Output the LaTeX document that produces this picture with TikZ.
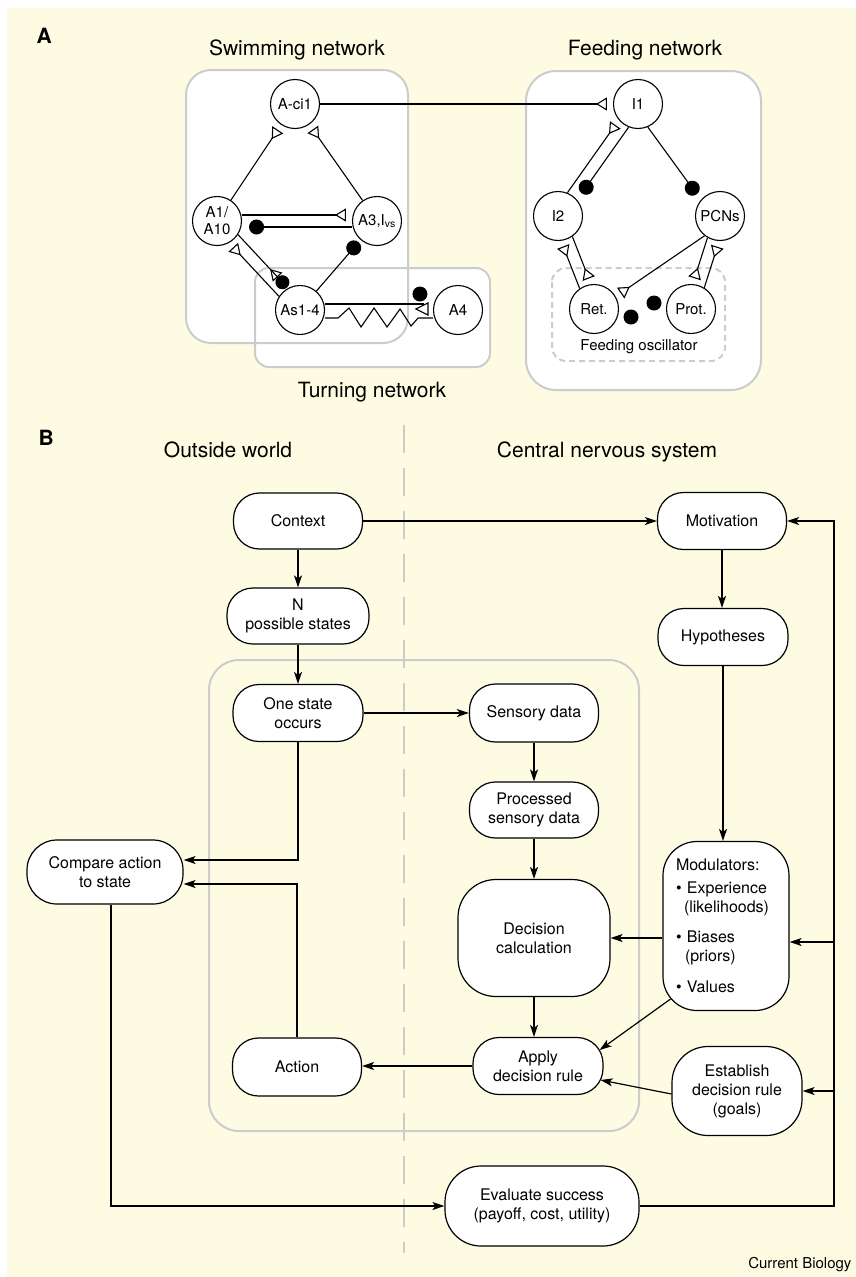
\documentclass[tikz,border=0pt]{standalone}
\usepackage{fontspec}
\setmainfont{TeX Gyre Heros}
\usetikzlibrary{arrows.meta,calc}
\definecolor{cream}{RGB}{253,251,226}
\definecolor{boxgray}{RGB}{204,204,204}
\begin{document}
\begin{tikzpicture}[x=1pt,y=-1pt,
  neuron/.style={circle,draw,fill=white,line width=1.1pt,minimum size=49pt,inner sep=0pt,align=center,font=\fontsize{15}{17}\selectfont},
  syn/.style={line width=1.1pt},
  exc/.style={-{Triangle[open,reversed,length=11pt,width=13pt,line width=1.1pt]},shorten >=6pt},
  inh/.style={-{Circle[length=15pt]},shorten >=5pt},
  mixed/.style={-{Triangle[open,reversed,length=11pt,width=13pt,line width=1.1pt] Circle[length=14pt]},shorten >=1pt},
  grayframe/.style={draw=boxgray,line width=2pt},
  heading/.style={font=\fontsize{21}{25}\selectfont,anchor=base},
  panel/.style={font=\bfseries\fontsize{21}{25}\selectfont,anchor=base west},
  bnode/.style={draw,fill=white,line width=1.2pt,rounded corners=26pt,minimum width=130pt,minimum height=57pt,align=center,inner sep=2pt,font=\fontsize{16}{19}\selectfont},
  arr/.style={line width=1.2pt,-{Stealth[length=12pt,width=8pt,inset=3pt]}}
]
\useasboundingbox (0,0) rectangle (856,1277);
\fill[white] (0,0) rectangle (856,1277);
\fill[cream] (7,8) rectangle (856,1277);

% ---------------- Panel A ----------------
\node[panel] (labA) at (33,43) {A};
\node[heading] (tswim) at (297,55) {Swimming network};
\node[heading] (tfeed) at (645,55) {Feeding network};
\node[heading] (tturn) at (372,397) {Turning network};

\path[fill=white,rounded corners=25pt] (186,70) rectangle (408,343);
\path[fill=white,rounded corners=14pt] (255,268) rectangle (490,367);
\draw[grayframe,rounded corners=25pt] (186,70) rectangle (408,343);
\draw[grayframe,rounded corners=14pt] (255,268) rectangle (490,367);
\draw[grayframe,fill=white,rounded corners=30pt] (526,71) rectangle (761,390);
\draw[grayframe,dash pattern=on 6pt off 4pt,rounded corners=14pt] (552,268) rectangle (725,361);
\node[font=\fontsize{15}{17}\selectfont] (tosc) at (639,347) {Feeding oscillator};

\node[neuron] (Aci) at (295,104) {A-ci1};
\node[neuron] (A10) at (217,221) {A1/\\A10};
\node[neuron] (A3) at (377,221) {A3,I\textsubscript{vs}};
\node[neuron] (As) at (300,310) {As1-4};
\node[neuron] (A4) at (458,310) {A4};
\node[neuron] (I1) at (638,104) {I1};
\node[neuron] (I2) at (558,216) {I2};
\node[neuron] (PCN) at (720,216) {PCNs};
\node[neuron] (Ret) at (594,309) {Ret.};
\node[neuron] (Prot) at (691,309) {Prot.};

\draw[syn,exc] (Aci) -- (I1);
\draw[syn,exc] (A10) -- (Aci);
\draw[syn,exc] (A3) -- (Aci);
\draw[syn,exc] ([yshift=6pt]A10.east) -- ([yshift=6pt]A3.west);
\draw[syn,inh,shorten >=7pt] ([yshift=-6pt]A3.west) -- ([yshift=-6pt]A10.east);
\draw[syn,inh,shorten >=3pt] (As) -- (A3);
\draw[syn,mixed] (A10.-33) -- (As.119);
\draw[syn,exc] (As.147) -- (A10.-61);
\draw[syn,shorten >=9pt] ([yshift=6pt]As.east) -- ([yshift=6pt]A4.west);
\draw[syn] ([shift={(-17pt,1pt)}]A4.west) -- ++(12,-6) -- ++(0,12) -- cycle;
\fill ([shift={(-13pt,16pt)}]A4.west) circle (7.5pt);
\draw[syn] ([yshift=-8pt]As.east) -- ++(13,0) -- ++(11,-10) -- ++(12,19) -- ++(13,-19) -- ++(13,19) -- ++(13,-18) -- ++(11,17) -- ++(7,-8) -- ([yshift=-8pt]A4.west);

\draw[syn,exc] (I2.68) -- (I1.-140);
\draw[syn,inh,shorten >=8pt] (I1.-112) -- (I2.40);
\draw[syn,inh,shorten >=7pt] (I1.-67) -- (PCN.140);
\draw[syn,exc] (Ret.125) -- (I2.-83);
\draw[syn,exc] (I2.-55) -- (Ret.97);
\draw[syn,exc] (PCN.-128) -- (Ret.30);
\draw[syn,exc] (PCN.-120) -- (Prot.86);
\draw[syn,exc] (Prot.58) -- (PCN.-92);
\fill (631,317) circle (7.5pt);
\fill (654,303) circle (7.5pt);

% ---------------- Panel B ----------------
\node[panel] (labB) at (35,445) {B};
\node[heading] (tout) at (228,457) {Outside world};
\node[heading] (tcns) at (607,457) {Central nervous system};
\draw[boxgray,line width=1.3pt,dash pattern=on 28pt off 15pt] (404,425) -- (404,1253);
\draw[grayframe,rounded corners=30pt] (209,660) rectangle (639,1131);

\node[bnode,minimum width=129pt,minimum height=56pt] (ctx) at (298,521) {Context};
\node[bnode,minimum width=142pt,minimum height=56pt] (nst) at (298,616) {N\\possible states};
\node[bnode,minimum width=129pt] (mot) at (722,521) {Motivation};
\node[bnode] (hyp) at (723,637) {Hypotheses};
\node[bnode] (one) at (298,713) {One state\\occurs};
\node[bnode,minimum width=129pt,minimum height=58pt] (sen) at (534,713) {Sensory data};
\node[bnode,minimum width=129pt,minimum height=56pt] (pro) at (534,810) {Processed\\sensory data};
\node[bnode,minimum width=156pt,minimum height=64pt,rounded corners=30pt] (cmp) at (105,872) {Compare action\\to state};
\node[bnode,minimum width=152pt,minimum height=117pt,rounded corners=38pt] (dec) at (534,938) {Decision\\calculation};
\node[bnode,minimum width=126pt,minimum height=169pt,rounded corners=34pt,text width=100pt,align=left] (mod) at (726,926) {Modulators:\\[4pt]\textbullet\ Experience\\\hspace*{8pt}(likelihoods)\\[11pt]\textbullet\ Biases\\\hspace*{9pt}(priors)\\[12pt]\textbullet\ Values};
\node[bnode] (app) at (538,1066) {Apply\\decision rule};
\node[bnode,minimum width=129pt,minimum height=58pt] (act) at (297,1067) {Action};
\node[bnode,minimum height=89pt,rounded corners=36pt] (est) at (737,1091) {Establish\\decision rule\\(goals)};
\node[bnode,minimum width=194pt,minimum height=80pt,rounded corners=36pt] (eva) at (542,1206) {Evaluate success\\(payoff, cost, utility)};

\draw[arr] (ctx) -- (mot);
\draw[arr] (ctx) -- (nst);
\draw[arr] (nst) -- (one);
\draw[arr] (mot.south) -- (mot.south |- hyp.north);
\draw[arr] (hyp.south) -- (hyp.south |- mod.north);
\draw[arr] (one) -- (sen);
\draw[arr] (sen) -- (pro);
\draw[arr] (pro) -- (dec);
\draw[arr] (dec.south) -- (dec.south |- app.north);
\draw[arr] (mod.west |- dec.east) -- (dec.east);
\draw[arr] ([shift={(8pt,12pt)}]mod.south west) -- ([shift={(-4pt,16pt)}]app.east);
\draw[arr] ([yshift=-3pt]est.west) -- ([shift={(-3pt,-14pt)}]app.east);
\draw[arr] (app.west) -- (app.west -| act.east);
\draw[arr] (one.south) |- ([yshift=12pt]cmp.east);
\draw[arr] (act.north) |- ([yshift=-12pt]cmp.east);
\draw[arr] ([xshift=6pt]cmp.south) |- (eva.west);
\coordinate (fb) at (834,1208);
\draw[arr] (eva.east) -- (eva.east -| fb) -- (fb |- mot.east) -- (mot.east);
\coordinate (modin) at ([yshift=-16pt]mod.east);
\draw[arr] (fb |- modin) -- (modin);
\draw[arr] (fb |- est.east) -- (est.east);

\node[font=\fontsize{15}{18}\selectfont,anchor=base east] (credit) at (855,1268) {Current Biology};
\end{tikzpicture}
\end{document}
